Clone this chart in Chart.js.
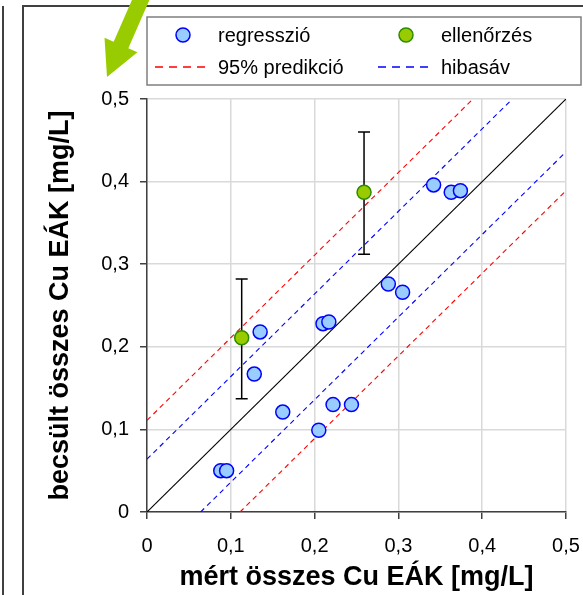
<!DOCTYPE html>
<html>
<head>
<meta charset="utf-8">
<script src="https://cdn.jsdelivr.net/npm/chart.js@4/dist/chart.umd.min.js"></script>
<style>
    html, body { margin: 0; padding: 0; background: #fff; }
    #wrap { width: 583px; height: 595px; }
</style>
</head>
<body>
<div id="wrap"><canvas id="cuChart" width="583" height="595"></canvas></div>
<script>
// regression points (measured vs estimated, mg/L)
const regX = [0.088, 0.095, 0.128, 0.135, 0.162, 0.205, 0.210, 0.217, 0.222, 0.244, 0.288, 0.305, 0.342, 0.363, 0.374];
const regY = [0.050, 0.050, 0.167, 0.218, 0.121, 0.099, 0.228, 0.230, 0.130, 0.130, 0.276, 0.266, 0.396, 0.387, 0.389];

// check points with their error bars
const chkX = [0.113, 0.259];
const chkY = [0.211, 0.387];
const chkLow = [0.137, 0.312];
const chkHigh = [0.282, 0.460];

// reference lines (two end points each)
const diagX = [0, 0.5];
const diagY = [0, 0.5];
const predUpX = [0, 0.389];
const predUpY = [0.111, 0.5];
const predLoX = [0.111, 0.5];
const predLoY = [0, 0.389];
const errUpX = [0, 0.436];
const errUpY = [0.064, 0.5];
const errLoX = [0.064, 0.5];
const errLoY = [0, 0.436];

const tickLabels = ['0', '0,1', '0,2', '0,3', '0,4', '0,5'];

const toPoints = (xs, ys) => xs.map((x, i) => ({ x: x, y: ys[i] }));

Chart.defaults.font.family = "'Liberation Sans', Arial, sans-serif";
Chart.defaults.color = '#000';

function lineSet(label, xs, ys, color, dash) {
    return {
        label: label,
        data: toPoints(xs, ys),
        showLine: true,
        borderColor: color,
        borderWidth: 1.1,
        borderDash: dash,
        pointRadius: 0,
        fill: false,
        order: 2
    };
}

// frame, other panel edge and the green arrow
const decorPlugin = {
    id: 'decor',
    beforeDraw(chart) {
        const ctx = chart.ctx;
        ctx.save();
        ctx.fillStyle = '#fff';
        ctx.fillRect(0, 0, chart.width, chart.height);
        ctx.strokeStyle = '#404040';
        ctx.lineWidth = 2;
        ctx.strokeRect(23, 6, 600, 600);
        ctx.beginPath();
        ctx.moveTo(3, 6);
        ctx.lineTo(3, 600);
        ctx.stroke();
        ctx.restore();
    },
    afterDraw(chart) {
        const ctx = chart.ctx;
        // arrow pointing down-left
        const tip = { x: 107, y: 77 }, mid = { x: 121, y: 45 };
        let ux = tip.x - mid.x, uy = tip.y - mid.y;
        const len = Math.hypot(ux, uy);
        ux /= len; uy /= len;
        const nx = -uy, ny = ux;
        const top = { x: mid.x - ux * 70, y: mid.y - uy * 70 };
        ctx.save();
        ctx.fillStyle = '#99cc00';
        ctx.beginPath();
        ctx.moveTo(top.x + nx * 8, top.y + ny * 8);
        ctx.lineTo(mid.x + nx * 8, mid.y + ny * 8);
        ctx.lineTo(mid.x + nx * 18, mid.y + ny * 18);
        ctx.lineTo(tip.x, tip.y);
        ctx.lineTo(mid.x - nx * 18, mid.y - ny * 18);
        ctx.lineTo(mid.x - nx * 8, mid.y - ny * 8);
        ctx.lineTo(top.x - nx * 8, top.y - ny * 8);
        ctx.closePath();
        ctx.fill();
        ctx.restore();

        // legend box
        ctx.save();
        ctx.strokeStyle = '#7f7f7f';
        ctx.lineWidth = 1.5;
        ctx.fillStyle = '#fff';
        ctx.fillRect(147, 17, 434, 68);
        ctx.strokeRect(147, 17, 434, 68);
        ctx.font = "20px 'Liberation Sans', Arial, sans-serif";
        ctx.textBaseline = 'middle';
        ctx.fillStyle = '#000';
        const ds = chart.data.datasets;
        const items = [
            { i: 0, x: 155, tx: 218, y: 35 },
            { i: 1, x: 378, tx: 441, y: 35 },
            { i: 2, x: 155, tx: 218, y: 67 },
            { i: 4, x: 378, tx: 441, y: 67 }
        ];
        items.forEach(it => {
            const d = ds[it.i];
            if (d.showLine) {
                ctx.save();
                ctx.strokeStyle = d.borderColor;
                ctx.lineWidth = 1.5;
                ctx.setLineDash([8, 6]);
                ctx.beginPath();
                ctx.moveTo(it.x, it.y);
                ctx.lineTo(it.x + 55, it.y);
                ctx.stroke();
                ctx.restore();
            } else {
                ctx.save();
                ctx.fillStyle = d.backgroundColor;
                ctx.strokeStyle = d.borderColor;
                ctx.lineWidth = d.borderWidth;
                ctx.beginPath();
                ctx.arc(it.x + 28, it.y, d.pointRadius, 0, Math.PI * 2);
                ctx.fill();
                ctx.stroke();
                ctx.restore();
            }
            ctx.fillText(d.label, it.tx, it.y + 1);
        });
        ctx.restore();
    },
    // error bars go under the green markers
    beforeDatasetDraw(chart, args) {
        if (args.index !== 1) return;
        const ctx = chart.ctx;
        const xs = chart.scales.x, ys = chart.scales.y;
        ctx.save();
        ctx.strokeStyle = '#000';
        ctx.lineWidth = 1.5;
        chkX.forEach((x, i) => {
            const px = xs.getPixelForValue(x);
            const y1 = ys.getPixelForValue(chkLow[i]);
            const y2 = ys.getPixelForValue(chkHigh[i]);
            ctx.beginPath();
            ctx.moveTo(px, y1); ctx.lineTo(px, y2);
            ctx.moveTo(px - 6, y1); ctx.lineTo(px + 6, y1);
            ctx.moveTo(px - 6, y2); ctx.lineTo(px + 6, y2);
            ctx.stroke();
        });
        ctx.restore();
    }
};

const axisGrid = {
    color: '#d9d9d9',
    lineWidth: 1.5,
    tickLength: 7,
    tickColor: '#404040',
    tickWidth: 1.5
};

new Chart(document.getElementById('cuChart'), {
    type: 'scatter',
    data: {
        datasets: [
            {
                label: 'regresszió',
                data: toPoints(regX, regY),
                backgroundColor: '#99ccff',
                borderColor: '#0000ff',
                borderWidth: 1.5,
                pointRadius: 7,
                order: 0
            },
            {
                label: 'ellenőrzés',
                data: toPoints(chkX, chkY),
                backgroundColor: '#99cc00',
                borderColor: '#2e8b00',
                borderWidth: 1.5,
                pointRadius: 7,
                order: 0
            },
            lineSet('95% predikció', predUpX, predUpY, '#ff0000', [5, 4]),
            lineSet('95% predikció', predLoX, predLoY, '#ff0000', [5, 4]),
            lineSet('hibasáv', errUpX, errUpY, '#0000ff', [5, 4]),
            lineSet('hibasáv', errLoX, errLoY, '#0000ff', [5, 4]),
            lineSet('y = x', diagX, diagY, '#000000', [])
        ]
    },
    options: {
        responsive: false,
        animation: false,
        layout: { padding: { left: 30, top: 99, right: 17, bottom: 0 } },
        plugins: {
            legend: { display: false },
            tooltip: { enabled: false }
        },
        scales: {
            x: {
                type: 'linear',
                min: 0,
                max: 0.5,
                grid: axisGrid,
                border: { color: '#404040', width: 1.5 },
                ticks: {
                    stepSize: 0.1,
                    autoSkip: false,
                    maxRotation: 0,
                    padding: 15,
                    font: { size: 20 },
                    callback: (v, i) => tickLabels[i]
                },
                title: {
                    display: true,
                    text: 'mért összes Cu EÁK [mg/L]',
                    font: { size: 27, weight: 'bold' },
                    padding: { top: 0, bottom: 1 }
                },
                afterFit: s => {
                    s.height = 83;
                    s.paddingLeft = 0;
                    s.paddingRight = 0;
                }
            },
            y: {
                type: 'linear',
                min: 0,
                max: 0.5,
                grid: axisGrid,
                border: { color: '#404040', width: 1.5 },
                ticks: {
                    stepSize: 0.1,
                    autoSkip: false,
                    padding: 11,
                    font: { size: 20 },
                    callback: (v, i) => tickLabels[i]
                },
                title: {
                    display: true,
                    text: 'becsült összes Cu EÁK [mg/L]',
                    font: { size: 27, weight: 'bold' },
                    padding: { top: 14, bottom: 0 }
                },
                afterFit: s => {
                    s.width = 117;
                    s.paddingTop = 0;
                    s.paddingBottom = 0;
                }
            }
        }
    },
    plugins: [decorPlugin]
});
</script>
</body>
</html>
